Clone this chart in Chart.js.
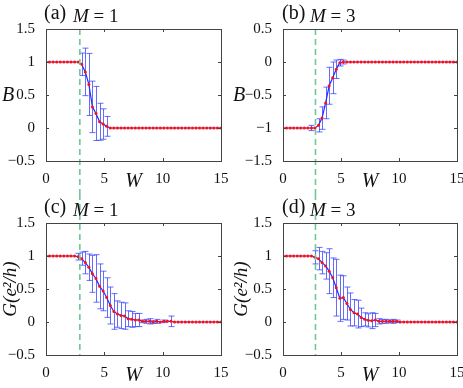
<!DOCTYPE html>
<html>
<head>
<meta charset="utf-8">
<script src="https://cdn.jsdelivr.net/npm/chart.js@4.4.1/dist/chart.umd.min.js"></script>
<style>
  body { margin: 0; background: #fff; }
  #wrap { position: relative; width: 463px; height: 388px; overflow: hidden; font-family: 'Liberation Serif', serif; color: #111; }
  .cell { position: absolute; width: 232px; height: 194px; }
  .lbl { position: absolute; font-size: 20px; white-space: nowrap; line-height: 1; }
  .m { font-size: 19px; }
  .ylab { position: absolute; font-size: 20px; font-style: italic; line-height: 1; }
</style>
</head>
<body>
<div id="wrap">
  <div class="cell" style="left:0;top:0"><canvas id="chartA" width="232" height="194"></canvas></div>
  <div class="cell" style="left:231px;top:0"><canvas id="chartB" width="232" height="194"></canvas></div>
  <div class="cell" style="left:0;top:194px"><canvas id="chartC" width="232" height="194"></canvas></div>
  <div class="cell" style="left:231px;top:194px"><canvas id="chartD" width="232" height="194"></canvas></div>

  <div class="lbl" style="left:44px;top:2px">(a)</div>
  <div class="lbl m" style="left:73px;top:6px"><i>M</i> = 1</div>
  <div class="lbl" style="left:282px;top:2px">(b)</div>
  <div class="lbl m" style="left:310px;top:6px"><i>M</i> = 3</div>
  <div class="lbl" style="left:44px;top:196px">(c)</div>
  <div class="lbl m" style="left:73px;top:200px"><i>M</i> = 1</div>
  <div class="lbl" style="left:282px;top:196px">(d)</div>
  <div class="lbl m" style="left:310px;top:200px"><i>M</i> = 3</div>

  <div class="ylab" style="left:2px;top:84px">B</div>
  <div class="ylab" style="left:233px;top:84px">B</div>
</div>

<script>
// disorder strength W (50 samples, 0..15)
const W = [0, 0.306, 0.612, 0.918, 1.224, 1.531, 1.837, 2.143, 2.449, 2.755,
    3.061, 3.367, 3.673, 3.980, 4.286, 4.592, 4.898, 5.204, 5.510, 5.816,
    6.122, 6.429, 6.735, 7.041, 7.347, 7.653, 7.959, 8.265, 8.571, 8.878,
    9.184, 9.490, 9.796, 10.102, 10.408, 10.714, 11.020, 11.327, 11.633, 11.939,
    12.245, 12.551, 12.857, 13.163, 13.469, 13.776, 14.082, 14.388, 14.694, 15];

// (a) B, M = 1
const bM1 = [1, 1, 1, 1, 1, 1, 1, 1, 1, 1,
    0.965, 0.85, 0.66, 0.32, 0.22, 0.095, 0.06, 0.025, 0, 0,
    0, 0, 0, 0, 0, 0, 0, 0, 0, 0,
    0, 0, 0, 0, 0, 0, 0, 0, 0, 0,
    0, 0, 0, 0, 0, 0, 0, 0, 0, 0];
const bM1Err = [0, 0, 0, 0, 0, 0, 0, 0, 0, 0,
    0.17, 0.36, 0.47, 0.39, 0.41, 0.28, 0.23, 0.15, 0, 0,
    0, 0, 0, 0, 0, 0, 0, 0, 0, 0,
    0, 0, 0, 0, 0, 0, 0, 0, 0, 0,
    0, 0, 0, 0, 0, 0, 0, 0, 0, 0];

// (b) B, M = 3
const bM3 = [-1, -1, -1, -1, -1, -1, -1, -1, -1, -1,
    -0.96, -0.85, -0.62, -0.36, -0.24, -0.11, -0.01, 0, 0, 0,
    0, 0, 0, 0, 0, 0, 0, 0, 0, 0,
    0, 0, 0, 0, 0, 0, 0, 0, 0, 0,
    0, 0, 0, 0, 0, 0, 0, 0, 0, 0];
const bM3Err = [0, 0, 0, 0, 0, 0, 0, 0, 0.04, 0,
    0.1, 0.17, 0.24, 0.28, 0.24, 0.14, 0.05, 0.03, 0, 0,
    0, 0, 0, 0, 0, 0, 0, 0, 0, 0,
    0, 0, 0, 0, 0, 0, 0, 0, 0, 0,
    0, 0, 0, 0, 0, 0, 0, 0, 0, 0];

// (c) G, M = 1
const gM1 = [1, 1, 1, 1, 1, 1, 1, 1, 1, 0.99,
    0.96, 0.90, 0.83, 0.73, 0.66, 0.54, 0.47, 0.37, 0.25, 0.16,
    0.12, 0.10, 0.09, 0.05, 0.04, 0.03, 0.03, 0.01, 0.01, 0.01,
    0, 0.01, 0, 0.01, 0.01, 0.01, 0, 0, 0, 0,
    0, 0, 0, 0, 0, 0, 0, 0, 0, 0];
const gM1Err = [0, 0, 0, 0, 0, 0, 0, 0, 0, 0.05,
    0.1, 0.17, 0.2, 0.28, 0.36, 0.34, 0.3, 0.3, 0.28, 0.27,
    0.2, 0.2, 0.2, 0.12, 0.12, 0.1, 0.1, 0.02, 0.03, 0.04,
    0.02, 0.03, 0, 0.02, 0, 0.08, 0, 0, 0, 0,
    0, 0, 0, 0, 0, 0, 0, 0, 0, 0];

// (d) G, M = 3
const gM3 = [1, 1, 1, 1, 1, 1, 1, 1, 1, 0.98,
    0.96, 0.90, 0.85, 0.77, 0.67, 0.52, 0.36, 0.37, 0.28, 0.19,
    0.14, 0.12, 0.07, 0.04, 0.025, 0.02, 0.03, 0.01, 0.01, 0.01,
    0.01, 0.01, 0.01, 0, 0, 0, 0, 0, 0, 0,
    0, 0, 0, 0, 0, 0, 0, 0, 0, 0];
const gM3Err = [0, 0, 0, 0, 0, 0, 0, 0, 0, 0.1,
    0.17, 0.17, 0.2, 0.34, 0.3, 0.43, 0.35, 0.33, 0.25, 0.25,
    0.2, 0.21, 0.14, 0.1, 0.1, 0.12, 0.1, 0.04, 0.03, 0.03,
    0.02, 0.03, 0.02, 0, 0, 0, 0, 0, 0, 0,
    0, 0, 0, 0, 0, 0, 0, 0, 0, 0];

// critical W marked by the dashed line
const wcM1 = 2.9;
const wcM3 = 2.8;

const FONT = "'Liberation Serif', serif";

function fmtTick(v) {
    if (Math.abs(v) < 1e-9) return '0';
    return v < 0 ? '\u2212' + Math.abs(v) : String(v);
}

// frame, inward ticks, error bars and the dashed line
const panelDecor = {
    id: 'panelDecor',
    beforeDatasetsDraw(chart, args, opts) {
        const ctx = chart.ctx;
        const xs = chart.scales.x, ys = chart.scales.y;
        ctx.save();
        ctx.strokeStyle = 'rgba(50,60,255,0.75)';
        ctx.lineWidth = 1;
        opts.vals.forEach((v, i) => {
            const e = opts.err[i];
            if (!e) return;
            const x = Math.round(xs.getPixelForValue(W[i])) + 0.5;
            const y1 = ys.getPixelForValue(v + e);
            const y2 = ys.getPixelForValue(v - e);
            ctx.beginPath();
            ctx.moveTo(x, y1); ctx.lineTo(x, y2);
            ctx.moveTo(x - 3, y1); ctx.lineTo(x + 3, y1);
            ctx.moveTo(x - 3, y2); ctx.lineTo(x + 3, y2);
            ctx.stroke();
        });
        ctx.restore();
    },
    afterDraw(chart, args, opts) {
        const ctx = chart.ctx;
        const a = chart.chartArea;
        const xs = chart.scales.x, ys = chart.scales.y;
        ctx.save();
        // dashed line at Wc, running through to the other panel of the column
        const xc = xs.getPixelForValue(opts.wc);
        ctx.strokeStyle = 'rgb(110,200,150)';
        ctx.lineWidth = 1.6;
        ctx.setLineDash([6, 4]);
        ctx.beginPath();
        if (opts.upper) { ctx.moveTo(xc, a.top); ctx.lineTo(xc, chart.height); }
        else { ctx.moveTo(xc, 0); ctx.lineTo(xc, a.bottom); }
        ctx.stroke();
        ctx.setLineDash([]);
        // box
        ctx.strokeStyle = '#444';
        ctx.lineWidth = 1;
        ctx.strokeRect(Math.round(a.left) + 0.5, Math.round(a.top) + 0.5,
            Math.round(a.right - a.left), Math.round(a.bottom - a.top));
        // inward ticks
        ctx.beginPath();
        xs.ticks.forEach(t => {
            const x = Math.round(xs.getPixelForValue(t.value)) + 0.5;
            ctx.moveTo(x, a.bottom); ctx.lineTo(x, a.bottom - 3);
            ctx.moveTo(x, a.top); ctx.lineTo(x, a.top + 3);
        });
        ys.ticks.forEach(t => {
            const y = Math.round(ys.getPixelForValue(t.value)) + 0.5;
            ctx.moveTo(a.left, y); ctx.lineTo(a.left + 3, y);
            ctx.moveTo(a.right, y); ctx.lineTo(a.right - 3, y);
        });
        ctx.stroke();
        ctx.restore();
    }
};

function makePanel(id, vals, err, yMin, yMax, wc, upper, padRight, leftWidth, yTitle) {
    new Chart(document.getElementById(id), {
        type: 'line',
        data: {
            datasets: [{
                data: W.map((w, i) => ({ x: w, y: vals[i] })),
                borderColor: 'rgb(40,40,255)',
                borderWidth: 1.2,
                pointRadius: 0,
                fill: false,
                order: 2
            }, {
                data: W.map((w, i) => ({ x: w, y: vals[i] })),
                showLine: false,
                pointRadius: 1.5,
                pointBackgroundColor: '#ff1010',
                pointBorderWidth: 0,
                order: 1
            }]
        },
        options: {
            responsive: false,
            animation: false,
            devicePixelRatio: 1,
            layout: { padding: { top: 29, right: padRight, left: 0, bottom: 0 } },
            plugins: {
                legend: { display: false },
                tooltip: { enabled: false },
                panelDecor: { vals: vals, err: err, wc: wc, upper: upper }
            },
            scales: {
                x: {
                    type: 'linear', min: 0, max: 15,
                    grid: { display: false },
                    border: { display: false },
                    ticks: { stepSize: 5, padding: 1, color: '#111', font: { family: FONT, size: 15 } },
                    title: { display: true, text: 'W', color: '#111', padding: 0,
                        font: { family: FONT, size: 20, style: 'italic' } },
                    afterFit: s => { s.height = 33; s.paddingLeft = 0; s.paddingRight = 0; }
                },
                y: {
                    type: 'linear', min: yMin, max: yMax,
                    grid: { display: false },
                    border: { display: false },
                    ticks: { stepSize: 0.5, padding: 3, color: '#111', callback: fmtTick,
                        font: { family: FONT, size: 15 } },
                    title: { display: !!yTitle, text: yTitle || '', color: '#111', padding: 0,
                        font: { family: FONT, size: 19, style: 'italic' } },
                    afterFit: s => { s.width = leftWidth; s.paddingTop = 0; s.paddingBottom = 0; }
                }
            }
        },
        plugins: [panelDecor]
    });
}

makePanel('chartA', bM1, bM1Err, -0.5, 1.5, wcM1, true, 11, 46, null);
makePanel('chartB', bM3, bM3Err, -1.5, 0.5, wcM3, true, 6, 52, null);
makePanel('chartC', gM1, gM1Err, -0.5, 1.5, wcM1, false, 11, 46, 'G(e\u00b2/h)');
makePanel('chartD', gM3, gM3Err, -0.5, 1.5, wcM3, false, 6, 52, 'G(e\u00b2/h)');
</script>
</body>
</html>
